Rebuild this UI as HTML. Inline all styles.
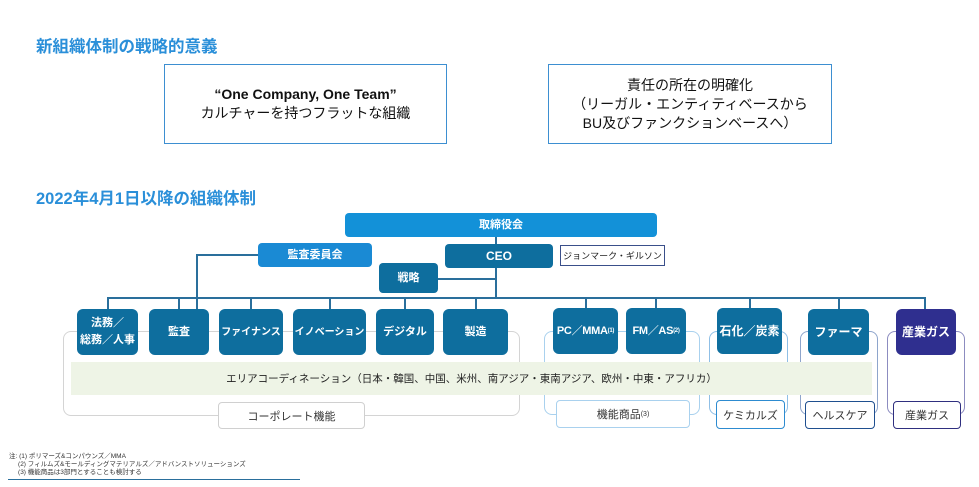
<!DOCTYPE html>
<html><head><meta charset="utf-8"><style>
body{margin:0;width:979px;height:487px;background:#fff;position:relative;overflow:hidden;font-family:"Liberation Sans","Noto Sans CJK JP",sans-serif;}
.a{position:absolute;box-sizing:border-box;display:flex;align-items:center;justify-content:center;text-align:center;}
.t{position:absolute;color:#2a8fd9;font-weight:bold;font-size:16.5px;white-space:nowrap;}
.b{background:#0e6e9e;color:#fff;font-weight:bold;font-size:11px;border-radius:6px;line-height:17px;white-space:nowrap;}
.ln{position:absolute;background:#2a6f9c;}
.br{position:absolute;box-sizing:border-box;border-radius:8px;}
.lab{background:#fff;font-size:11px;color:#333;border-radius:4px;}
</style></head><body>
<div class="t" style="left:36px;top:33px;">新組織体制の戦略的意義</div>
<div class="a" style="left:164px;top:64px;width:283px;height:80px;border:1.5px solid #3d8fd1;font-size:14px;line-height:19px;color:#111;"><div><b>“One Company, One Team”</b><br>カルチャーを持つフラットな組織</div></div>
<div class="a" style="left:548px;top:64px;width:284px;height:80px;border:1.5px solid #3d8fd1;font-size:14px;line-height:19px;color:#111;"><div>責任の所在の明確化<br>（リーガル・エンティティベースから<br>BU及びファンクションベースへ）</div></div>
<div class="t" style="left:36px;top:185px;">2022年4月1日以降の組織体制</div>

<div class="ln" style="left:108px;top:297px;width:818px;height:2px;"></div>
<div class="ln" style="left:495px;top:237px;width:2px;height:61px;"></div>
<div class="ln" style="left:438px;top:278px;width:58px;height:2px;"></div>
<div class="ln" style="left:196px;top:254px;width:64px;height:2px;"></div>
<div class="ln" style="left:196px;top:254px;width:2px;height:56px;"></div>
<div class="ln" style="left:107px;top:297px;width:2px;height:12px;"></div>
<div class="ln" style="left:178px;top:297px;width:2px;height:12px;"></div>
<div class="ln" style="left:250px;top:297px;width:2px;height:12px;"></div>
<div class="ln" style="left:329px;top:297px;width:2px;height:12px;"></div>
<div class="ln" style="left:404px;top:297px;width:2px;height:12px;"></div>
<div class="ln" style="left:475px;top:297px;width:2px;height:12px;"></div>
<div class="ln" style="left:585px;top:297px;width:2px;height:12px;"></div>
<div class="ln" style="left:655px;top:297px;width:2px;height:12px;"></div>
<div class="ln" style="left:749px;top:297px;width:2px;height:12px;"></div>
<div class="ln" style="left:838px;top:297px;width:2px;height:12px;"></div>
<div class="ln" style="left:924px;top:297px;width:2px;height:12px;"></div>

<div class="br" style="left:63px;top:331px;width:457px;height:85px;border:1.5px solid #d4d4d4;"></div>
<div class="br" style="left:544px;top:331px;width:156px;height:84px;border:1.5px solid #a9d1ee;"></div>
<div class="br" style="left:709px;top:331px;width:79px;height:84px;border:1.5px solid #8fbfe6;"></div>
<div class="br" style="left:800px;top:331px;width:78px;height:84px;border:1.5px solid #8ea5cc;"></div>
<div class="br" style="left:887px;top:331px;width:78px;height:84px;border:1.5px solid #8c8cc0;"></div>

<div class="a" style="left:71px;top:362px;width:801px;height:33px;background:#eef4e6;font-size:10.5px;color:#222;">エリアコーディネーション（日本・韓国、中国、米州、南アジア・東南アジア、欧州・中東・アフリカ）</div>

<div class="a lab" style="left:218px;top:402px;width:147px;height:27px;border:1.5px solid #d0d0d0;">コーポレート機能</div>
<div class="a lab" style="left:556px;top:400px;width:134px;height:28px;border:1.5px solid #a9d1ee;">機能商品<sup style="font-size:7px">(3)</sup></div>
<div class="a lab" style="left:716px;top:400px;width:69px;height:29px;border:1.5px solid #2d8bd0;">ケミカルズ</div>
<div class="a lab" style="left:805px;top:401px;width:70px;height:28px;border:1.5px solid #1f4f8f;">ヘルスケア</div>
<div class="a lab" style="left:893px;top:401px;width:68px;height:28px;border:1.5px solid #2f2f7f;">産業ガス</div>

<div class="a b" style="left:345px;top:213px;width:312px;height:24px;background:#1391d8;border-radius:4px;">取締役会</div>
<div class="a b" style="left:258px;top:243px;width:114px;height:24px;background:#1a8ad4;border-radius:4px;">監査委員会</div>
<div class="a b" style="left:445px;top:244px;width:108px;height:24px;border-radius:4px;font-size:12px;">CEO</div>
<div class="a" style="left:560px;top:245px;width:105px;height:21px;border:1px solid #3a4f8a;font-size:9px;color:#222;">ジョンマーク・ギルソン</div>
<div class="a b" style="left:379px;top:263px;width:59px;height:30px;border-radius:4px;">戦略</div>

<div class="a b" style="left:77px;top:309px;width:61px;height:46px;">法務／<br>総務／人事</div>
<div class="a b" style="left:149px;top:309px;width:60px;height:46px;">監査</div>
<div class="a b" style="left:219px;top:309px;width:64px;height:46px;font-size:10px;">ファイナンス</div>
<div class="a b" style="left:293px;top:309px;width:73px;height:46px;font-size:10px;">イノベーション</div>
<div class="a b" style="left:376px;top:309px;width:58px;height:46px;">デジタル</div>
<div class="a b" style="left:443px;top:309px;width:65px;height:46px;">製造</div>
<div class="a b" style="left:553px;top:308px;width:65px;height:46px;font-size:11px;letter-spacing:-0.3px;">PC／MMA<sup style="font-size:6px">(1)</sup></div>
<div class="a b" style="left:626px;top:308px;width:60px;height:46px;font-size:11px;letter-spacing:-0.3px;">FM／AS<sup style="font-size:6px">(2)</sup></div>
<div class="a b" style="left:717px;top:308px;width:65px;height:46px;font-size:12px;">石化／炭素</div>
<div class="a b" style="left:808px;top:309px;width:61px;height:46px;font-size:12px;">ファーマ</div>
<div class="a b" style="left:896px;top:309px;width:60px;height:46px;font-size:12px;background:#2f2f8f;">産業ガス</div>

<div style="position:absolute;left:9px;top:453px;font-size:6.5px;line-height:8px;color:#333;white-space:nowrap;">注: (1) ポリマーズ&amp;コンパウンズ／MMA<br>&nbsp;&nbsp;&nbsp;&nbsp;&nbsp;(2) フィルムズ&amp;モールディングマテリアルズ／アドバンストソリューションズ<br>&nbsp;&nbsp;&nbsp;&nbsp;&nbsp;(3) 機能商品は3部門とすることも検討する</div>
<div style="position:absolute;left:8px;top:479px;width:292px;height:1px;background:#2a6f9c;"></div>
</body></html>
